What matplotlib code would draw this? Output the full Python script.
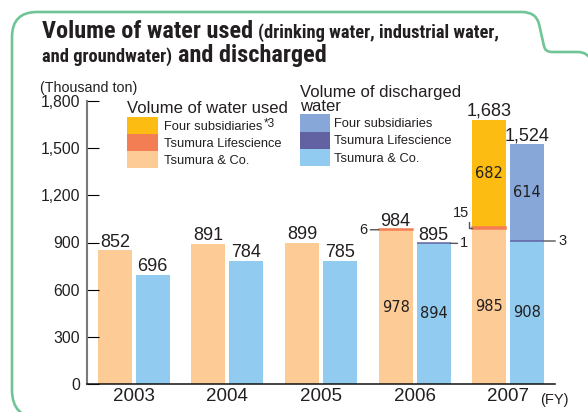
import numpy as np
import matplotlib.pyplot as plt
from matplotlib import font_manager
from matplotlib.patches import PathPatch, Rectangle
from matplotlib.path import Path

# water volumes, thousand ton
years = ['2003', '2004', '2005', '2006', '2007']
used_tsumura = [852, 891, 899, 978, 985]
used_life = [0, 0, 0, 6, 15]
used_four = [0, 0, 0, 0, 682]
used_total = [852, 891, 899, 984, 1683]
dis_tsumura = [696, 784, 785, 894, 908]
dis_life = [0, 0, 0, 1, 3]
dis_four = [0, 0, 0, 0, 614]
dis_total = [696, 784, 785, 895, 1524]
yticks = [0, 300, 600, 900, 1200, 1500, 1800]

series_names = ['Four subsidiaries', 'Tsumura Lifescience', 'Tsumura & Co.']
used_colors = ['#FDBC12', '#F47E53', '#FDCB95']
dis_colors = ['#87A7D8', '#6262A3', '#91CBEF']

TXT = '#231f20'
GREEN = '#70C597'

plt.rcParams['font.family'] = ['Liberation Sans', 'DejaVu Sans']

# narrow face for the heading, if one is installed
fonts = font_manager.fontManager.ttflist
names = {f.name for f in fonts}
title_font = dict(family='Liberation Sans')
big, small = 15, 11
for cand in ['Liberation Sans Narrow', 'Roboto Condensed', 'Noto Sans Condensed',
             'Open Sans Condensed']:
    if cand in names:
        title_font = dict(family=cand)
        big, small = 17.5, 13.3
        break
else:
    if any(f.name == 'DejaVu Sans' and f.stretch == 'condensed' and f.weight == 'bold'
           for f in fonts):
        title_font = dict(family='DejaVu Sans', stretch='condensed')
        big, small = 15.5, 11.5

fig = plt.figure(figsize=(5.88, 4.12), dpi=100)
ax = fig.add_axes([87 / 588, 28 / 412, 468 / 588, 283 / 412])

x = np.arange(len(years))
w = 0.363
d = 0.203

def stack(xpos, base, mid, top, colors):
    base, mid, top = map(np.array, (base, mid, top))
    ax.bar(xpos, base, w, color=colors[2])
    ax.bar(xpos, top, w, bottom=base + mid, color=colors[0])
    # thin layer gets an edge so it stays visible
    ax.bar(xpos, mid, w, bottom=base, color=colors[1], edgecolor=colors[1],
           linewidth=[1.1 if v else 0 for v in mid], zorder=3)
    return base, mid, top

ub, um, ut = stack(x - d, used_tsumura, used_life, used_four, used_colors)
db, dm, dt = stack(x + d, dis_tsumura, dis_life, dis_four, dis_colors)

# totals above bars
for i in range(len(years)):
    ax.annotate(f'{used_total[i]:,}', (x[i] - d, used_total[i]), xytext=(0, 3.5),
                textcoords='offset pixels', ha='center', va='baseline',
                fontsize=13, color=TXT)
    ax.annotate(f'{dis_total[i]:,}', (x[i] + d, dis_total[i]), xytext=(0, 3.5),
                textcoords='offset pixels', ha='center', va='baseline',
                fontsize=13, color=TXT)

# values inside the stacked bars
inner = dict(ha='center', va='center', fontsize=10.5, color=TXT, family='DejaVu Sans')
for i in range(len(years)):
    if um[i] == 0:
        continue
    ax.text(x[i] - d, ub[i] / 2, str(ub[i]), **inner)
    ax.text(x[i] + d, db[i] / 2, str(db[i]), **inner)
    if ut[i]:
        ax.text(x[i] - d, ub[i] + um[i] + ut[i] / 2, str(ut[i]), **inner)
    if dt[i]:
        ax.text(x[i] + d, db[i] + dm[i] + dt[i] / 2, str(dt[i]), **inner)

# leader labels for the Tsumura Lifescience layer
lead = dict(arrowstyle='-', color='#555555', lw=1, shrinkA=0, shrinkB=0)
ax.annotate(str(um[3]), (x[3] - d - w / 2, ub[3] + um[3] / 2), xytext=(-8, 0),
            textcoords='offset points', ha='right', va='center', fontsize=10.5,
            color=TXT, arrowprops=lead)
ax.annotate(str(dm[3]), (x[3] + d + w / 2, db[3] + dm[3] / 2), xytext=(7, 0),
            textcoords='offset points', ha='left', va='center', fontsize=10.5,
            color=TXT, arrowprops=lead)
ax.annotate(str(dm[4]), (x[4] + d + w / 2, db[4] + dm[4] / 2), xytext=(10, 0),
            textcoords='offset points', ha='left', va='center', fontsize=10.5,
            color=TXT, arrowprops=lead)
ax.annotate(str(um[4]), (x[4] - d - w / 2, ub[4] + um[4] / 2), xytext=(-2, 6),
            textcoords='offset points', ha='right', va='bottom', fontsize=10.5,
            color=TXT,
            arrowprops=dict(lead, relpos=(1, 0),
                            connectionstyle='angle,angleA=90,angleB=0,rad=0'))

ax.set_xlim(-0.5, 4.5)
ax.set_ylim(0, 1800)
ax.set_yticks(yticks)
ax.set_yticklabels([f'{v:,}' for v in yticks])
ax.set_xticks(x)
ax.set_xticklabels(years)
ax.tick_params(axis='y', direction='in', length=8.6, width=0.8, color='black',
               pad=5, labelsize=11.3, labelcolor=TXT)
ax.tick_params(axis='x', length=0, pad=3, labelsize=13.5, labelcolor=TXT)
for s in ['top', 'right']:
    ax.spines[s].set_visible(False)
ax.spines['left'].set_color('#7a7a7a')
ax.spines['left'].set_linewidth(1.5)
ax.spines['bottom'].set_color('#111111')
ax.spines['bottom'].set_linewidth(1.1)

# overlay in pixel units for the frame, heading and legend
ov = fig.add_axes([0, 0, 1, 1])
ov.set_xlim(0, 588)
ov.set_ylim(412, 0)
ov.set_axis_off()
ov.patch.set_visible(False)

verts = [(40, 418), (12, 418), (12, 390), (12, 37), (12, 12), (37, 12),
         (522, 12), (536, 12), (539, 24), (544, 46), (545, 52), (552, 52),
         (578, 52), (588, 52), (592, 62)]
codes = [Path.MOVETO, Path.CURVE3, Path.CURVE3, Path.LINETO, Path.CURVE3, Path.CURVE3,
         Path.LINETO, Path.CURVE3, Path.CURVE3, Path.LINETO, Path.CURVE3, Path.CURVE3,
         Path.LINETO, Path.CURVE3, Path.CURVE3]
ov.add_patch(PathPatch(Path(verts, codes), fill=False, edgecolor=GREEN, lw=1.9,
                       clip_on=False))

renderer = fig.canvas.get_renderer()

def runs(x0, y0, parts, **kw):
    xx = x0
    for s, size, gap, rise in parts:
        t = ov.text(xx + gap, y0 - rise, s, fontsize=size, va='baseline', ha='left',
                    color=TXT, **kw)
        xx = t.get_window_extent(renderer).x1
    return xx

runs(42, 38, [('Volume of water used', big, 0, 0),
              ('(drinking water, industrial water,', small, 5, 0)],
     fontweight='bold', **title_font)
runs(42, 62, [('and groundwater)', small, 0, 0), ('and discharged', big, 6, 0)],
     fontweight='bold', **title_font)

ov.text(40, 92, '(Thousand ton)', fontsize=10.3, color=TXT, va='baseline')
ov.text(540, 400, '(FY)', fontsize=10.5, color=TXT, va='center')

# legends
ov.text(127, 113, 'Volume of water used', fontsize=12, color=TXT, va='baseline')
ov.text(300, 97, 'Volume of discharged', fontsize=12, color=TXT, va='baseline')
ov.text(300, 111, 'water', fontsize=12, color=TXT, va='baseline')
for k in range(3):
    ov.add_patch(Rectangle((127, 117.3 + 17 * k), 31, 17, color=used_colors[k], lw=0))
    ov.add_patch(Rectangle((300, 114.3 + 17.3 * k), 30, 17.3, color=dis_colors[k], lw=0))
    ov.text(334, 127 + 17.3 * k, series_names[k], fontsize=9.3, color=TXT, va='baseline')
    if k == 0:
        runs(164, 129.8, [(series_names[k], 9.3, 0, 0), ('*3', 8.5, 1.5, 2.5)])
    else:
        ov.text(164, 129.8 + 17 * k, series_names[k], fontsize=9.3, color=TXT,
                va='baseline')

fig.savefig('out.png', dpi=100)
